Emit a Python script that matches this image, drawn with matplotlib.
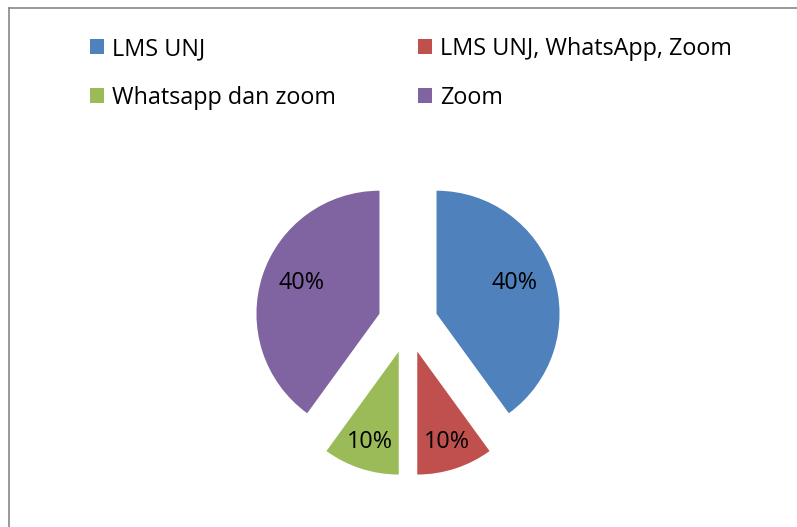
import numpy as np
import matplotlib.pyplot as plt
from matplotlib.lines import Line2D

# data
labels = ['LMS UNJ', 'LMS UNJ, WhatsApp, Zoom', 'Whatsapp dan zoom', 'Zoom']
values = [40, 10, 10, 40]
colors = ['#4F81BD', '#C0504D', '#9BBB59', '#8064A2']

plt.rcParams['font.family'] = ['Open Sans', 'DejaVu Sans']

W, H = 797, 527
fig = plt.figure(figsize=(W / 100, H / 100), dpi=100)
ax = fig.add_axes([0, 0, 1, 1])

# exploded pie, clockwise from 12 o'clock (explode is in data units here)
wedges, texts, autotexts = ax.pie(
    values, colors=colors, startangle=90, counterclock=False,
    explode=[30] * len(values), radius=123, center=(408, H - 323),
    autopct='%1.0f%%', pctdistance=0.72,
    textprops={'fontsize': 16.8, 'color': 'black'},
    wedgeprops={'linewidth': 0})

# big slices carry their label a bit closer to the tip, like Excel does
label_dist = [0.67, 0.77, 0.77, 0.67]
for w, t, d in zip(wedges, autotexts, label_dist):
    mid = np.deg2rad((w.theta1 + w.theta2) / 2)
    t.set_position((w.center[0] + d * w.r * np.cos(mid),
                    w.center[1] + d * w.r * np.sin(mid) + (5 if d < 0.7 else 0)))

ax.set_xlim(0, W)
ax.set_ylim(0, H)
ax.set_aspect('equal')
ax.axis('off')

# legend: two columns, order like the reference
order = [0, 2, 1, 3]
leg = fig.legend([wedges[i] for i in order], [labels[i] for i in order],
                 ncol=2, loc='upper left', bbox_to_anchor=(90 / W, 1 - 37 / H),
                 frameon=False, fontsize=16.8, handlelength=0.6, handleheight=0.6,
                 handletextpad=0.35, columnspacing=3.5, labelspacing=1.07,
                 borderaxespad=0, borderpad=0)

# chart border (left and top visible)
fig.add_artist(Line2D([8.5 / W, 8.5 / W], [0, 1 - 7.5 / H], color='#888888', lw=1.2))
fig.add_artist(Line2D([8.5 / W, 1], [1 - 7.5 / H, 1 - 7.5 / H], color='#888888', lw=1.2))

fig.savefig('out.png', dpi=100)
